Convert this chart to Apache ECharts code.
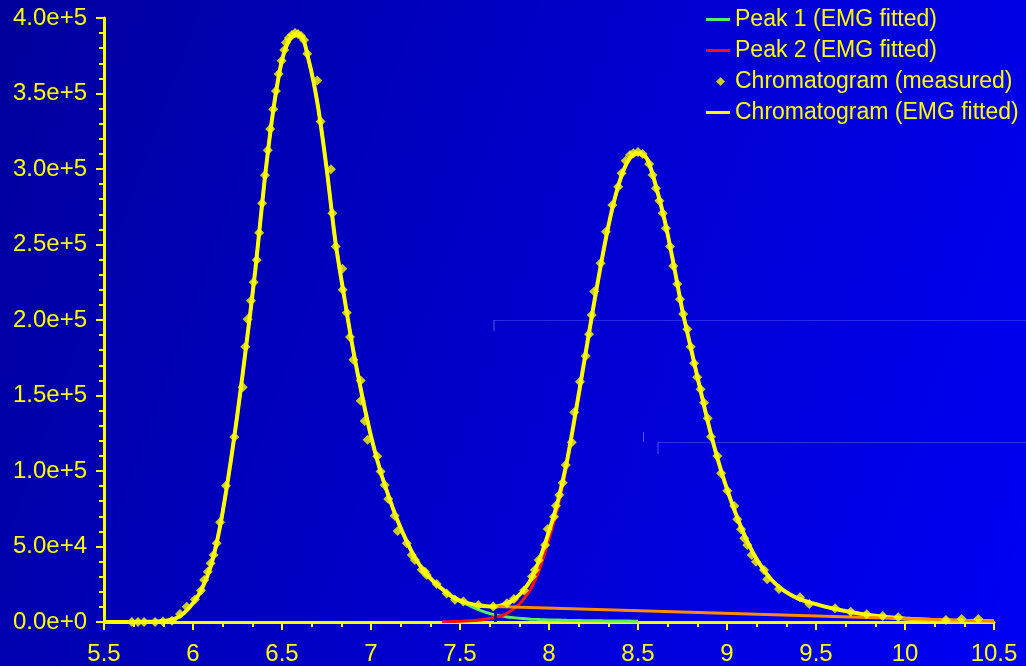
<!DOCTYPE html>
<html><head><meta charset="utf-8">
<script src="https://cdn.jsdelivr.net/npm/echarts@6/dist/echarts.min.js"></script>
<style>html,body{margin:0;padding:0;background:#0000c0;}#c{width:1026px;height:666px;background:linear-gradient(110deg,#00009c 0%,#0000c8 45%,#0000f5 100%);}</style>
</head><body><div id="c"></div><script>
// ---- data ----
const timeGrid = [5.50,5.55,5.60,5.65,5.70,5.75,5.80,5.85,5.90,5.95,6.00,6.05,6.10,6.15,6.20,6.25,6.30,6.35,6.40,6.45,6.50,6.55,6.60,6.65,6.70,6.75,6.80,6.85,6.90,6.95,7.00,7.05,7.10,7.15,7.20,7.25,7.30,7.35,7.40,7.45,7.50,7.55,7.60,7.65,7.70,7.75,7.80,7.85,7.90,7.95,8.00,8.05,8.10,8.15,8.20,8.25,8.30,8.35,8.40,8.45,8.50,8.55,8.60,8.65,8.70,8.75,8.80,8.85,8.90,8.95,9.00,9.05,9.10,9.15,9.20,9.25,9.30,9.35,9.40,9.45,9.50,9.55,9.60,9.65,9.70,9.75,9.80,9.85,9.90,9.95,10.00,10.05,10.10,10.15,10.20,10.25,10.30,10.35,10.40,10.45,10.50];
const fittedTotal = [0,0,0,0,0,100,300,900,2200,6000,12500,22000,37000,62000,97000,138000,184000,233000,290000,338000,372000,387000,389000,372000,343000,301000,252000,215000,180000,150000,123000,101000,83000,67000,53500,42000,33500,27000,21800,17200,14200,12300,11100,10400,10200,11600,14600,20000,28500,42500,60000,80000,106000,139000,174000,209000,242000,271000,293000,306500,310500,307000,289000,266000,237000,206000,180000,154000,129000,107000,88000,71500,57000,45000,35500,28000,22500,18500,15500,13500,11800,10200,8800,7600,6500,5500,4600,3900,3300,2800,2300,1900,1600,1300,1100,950,800,650,550,450,400];
// Peak 1 from 5.50 to 8.50
const peak1Values = [0,0,0,0,0,100,300,900,2200,6000,12500,22000,37000,62000,97000,138000,184000,233000,290000,338000,372000,387000,389000,372000,343000,301000,252000,215000,180000,150000,123000,101000,83000,67000,53500,42000,33400,26900,21600,16900,13600,11000,8300,6200,4700,3700,2900,2300,1900,1600,1400,1250,1100,1000,900,820,750,700,650,600,550];
// Peak 2 from 7.40 to 10.50
const peak2Values = [100,250,450,750,1200,2000,3100,4900,8500,14000,22500,36000,55000,76000,104000,137500,172800,208000,241200,270300,292300,305900,310000,306500,288600,265700,236800,205800,179800,153800,128900,106900,87900,71400,56900,44900,35400,27900,22400,18400,15400,13400,11700,10100,8700,7500,6400,5400,4500,3800,3200,2700,2200,1800,1500,1200,1000,850,700,550,450,350,300];
const measuredTime = [5.657,5.691,5.725,5.787,5.831,5.882,5.927,5.965,6.011,6.045,6.063,6.083,6.099,6.116,6.133,6.152,6.185,6.232,6.279,6.294,6.307,6.326,6.341,6.358,6.372,6.388,6.404,6.420,6.434,6.451,6.466,6.481,6.498,6.513,6.522,6.539,6.556,6.573,6.590,6.607,6.624,6.642,6.698,6.717,6.775,6.783,6.802,6.839,6.841,6.864,6.882,6.901,6.942,6.942,6.965,6.981,7.035,7.054,7.077,7.097,7.133,7.150,7.201,7.229,7.247,7.285,7.303,7.313,7.369,7.425,7.472,7.519,7.603,7.687,7.764,7.803,7.860,7.904,7.921,7.942,7.978,7.993,8.028,8.039,8.058,8.077,8.094,8.128,8.142,8.174,8.206,8.225,8.240,8.254,8.290,8.320,8.356,8.389,8.408,8.431,8.455,8.474,8.500,8.526,8.563,8.582,8.601,8.620,8.639,8.657,8.680,8.698,8.721,8.736,8.754,8.777,8.796,8.815,8.833,8.852,8.871,8.892,8.910,8.946,8.967,9.002,9.041,9.058,9.079,9.097,9.114,9.139,9.163,9.208,9.226,9.292,9.410,9.462,9.607,9.695,9.785,9.875,9.962,10.230,10.318,10.412];
const measuredValue = [0,0,0,0,300,800,5300,10100,14900,20900,27800,33300,38900,44400,52100,66000,90300,122500,155400,182300,200500,212800,225000,239800,257800,277300,295800,312400,326500,339600,351700,362900,371700,378800,383700,386800,388800,390100,389400,388100,385500,376400,358600,331500,299800,270700,248600,233900,220000,204800,188800,173700,159900,146500,133100,120700,109800,99600,90700,81400,70400,60300,52100,44400,41100,34600,33300,31200,25200,18900,14700,13600,11300,10300,12400,15200,20900,30100,34400,41100,51000,61600,69700,77000,84100,92300,104000,119000,138900,159100,176200,190500,203300,218800,237600,258500,276200,288300,297200,305500,309300,310400,311300,310000,303300,296000,287200,279000,270700,260700,248600,235800,223900,213700,204000,193900,182300,171300,162100,154100,145200,134900,122700,109900,98500,87000,76800,68000,61400,55400,51000,44400,39900,34400,28300,21900,16400,11900,9100,6800,5100,4000,3100,1300,2000,2000];
const separationLine = [[7.70, 10200], [10.50, 500]];
const dropLine = [[7.70, 0], [7.70, 7000]];
const xTicks = {min: 5.5, max: 10.5, step: 0.5};
const yTicks = {min: 0, max: 400000, step: 50000};

// ---- build ----
const zip = (t, v) => t.map((x, i) => [x, v[i]]);
const peak1Time = timeGrid.slice(0, peak1Values.length);
const peak2Time = timeGrid.slice(timeGrid.length - peak2Values.length);
const YEL = '#ffff00';
const FONT = '"Liberation Sans", Arial, sans-serif';
const LINE_ICON = 'path://M0,0H24V3H0Z';
const legendText = {color: YEL, fontSize: 23, fontFamily: FONT};

const chart = echarts.init(document.getElementById('c'), null, {renderer: 'canvas'});
chart.setOption({
  animation: false,
  backgroundColor: 'transparent',
  grid: {left: 104, right: 32, top: 18, bottom: 44},
  legend: [
    {orient: 'vertical', left: 701, top: 3, itemGap: 8, itemWidth: 24, itemHeight: 10, textStyle: legendText,
      data: [{name: 'Peak 1 (EMG fitted)', icon: LINE_ICON}, {name: 'Peak 2 (EMG fitted)', icon: LINE_ICON}]},
    {orient: 'vertical', left: 711, top: 65, itemWidth: 9, itemHeight: 9, textStyle: Object.assign({padding: [0, 0, 0, 5]}, legendText),
      data: [{name: 'Chromatogram (measured)', icon: 'diamond'}]},
    {orient: 'vertical', left: 701, top: 96, itemWidth: 24, itemHeight: 10, textStyle: legendText,
      data: [{name: 'Chromatogram (EMG fitted)', icon: LINE_ICON}]}
  ],
  xAxis: {
    type: 'value', min: xTicks.min, max: xTicks.max, interval: xTicks.step,
    axisLine: {lineStyle: {color: YEL, width: 3}},
    axisTick: {show: true, length: 8, lineStyle: {color: YEL, width: 2}},
    minorTick: {show: true, splitNumber: 3, length: 5, lineStyle: {color: YEL, width: 2}},
    axisLabel: {color: YEL, fontSize: 24, fontFamily: FONT, margin: 20},
    splitLine: {show: false}
  },
  yAxis: {
    type: 'value', min: yTicks.min, max: yTicks.max, interval: yTicks.step,
    axisLine: {show: true, lineStyle: {color: YEL, width: 3}},
    axisTick: {show: true, length: 8, lineStyle: {color: YEL, width: 2}},
    minorTick: {show: true, splitNumber: 5, length: 5, lineStyle: {color: YEL, width: 2}},
    axisLabel: {color: YEL, fontSize: 24, fontFamily: FONT, margin: 17,
      formatter: v => Number(v).toExponential(1)},
    splitLine: {show: false}
  },
  graphic: [
    {type: 'line', shape: {x1: 494, y1: 320.5, x2: 1026, y2: 320.5}, style: {stroke: 'rgba(90,90,255,0.45)', lineWidth: 1}, silent: true},
    {type: 'line', shape: {x1: 494, y1: 320, x2: 494, y2: 331}, style: {stroke: 'rgba(140,140,255,0.6)', lineWidth: 1}, silent: true},
    {type: 'line', shape: {x1: 658, y1: 442.5, x2: 1026, y2: 442.5}, style: {stroke: 'rgba(90,90,255,0.5)', lineWidth: 1}, silent: true},
    {type: 'line', shape: {x1: 658, y1: 442, x2: 658, y2: 454}, style: {stroke: 'rgba(140,140,255,0.6)', lineWidth: 1}, silent: true},
    {type: 'line', shape: {x1: 643.5, y1: 432, x2: 643.5, y2: 442}, style: {stroke: 'rgba(140,140,255,0.6)', lineWidth: 1}, silent: true}
  ],
  series: [
    {name: 'Peak 1 (EMG fitted)', type: 'line', data: zip(peak1Time, peak1Values), symbol: 'none', smooth: 0.3,
      lineStyle: {color: '#55ee66', width: 3}, itemStyle: {color: '#55ee66'}, z: 2},
    {name: 'Peak 2 (EMG fitted)', type: 'line', data: zip(peak2Time, peak2Values), symbol: 'none', smooth: 0.3,
      lineStyle: {color: '#ff1010', width: 3}, itemStyle: {color: '#ff1010'}, z: 2},
    {name: 'separation', type: 'line', data: separationLine, symbol: 'none',
      lineStyle: {color: '#ff8c00', width: 3}, z: 4},
    {name: 'drop', type: 'line', data: dropLine, symbol: 'none',
      lineStyle: {color: '#10109a', width: 3}, z: 4},
    {name: 'Chromatogram (EMG fitted)', type: 'line', data: zip(timeGrid, fittedTotal), symbol: 'none', smooth: 0.3,
      lineStyle: {color: YEL, width: 4}, itemStyle: {color: YEL}, z: 3},
    {name: 'Chromatogram (measured)', type: 'scatter', data: zip(measuredTime, measuredValue), symbol: 'diamond', symbolSize: 10,
      itemStyle: {color: YEL}, z: 5}
  ]
});
</script></body></html>
